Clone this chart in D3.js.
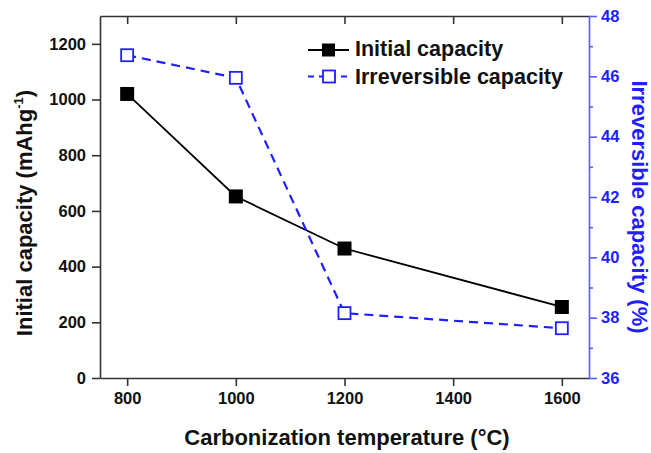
<!DOCTYPE html>
<html>
<head>
<meta charset="utf-8">
<script src="https://cdn.jsdelivr.net/npm/d3@7"></script>
<style>
  html, body { margin: 0; padding: 0; background: #fff; }
  svg { display: block; font-family: "Liberation Sans", Arial, sans-serif; }
</style>
</head>
<body>
<svg id="chart" width="651" height="453"></svg>
<script>
// Carbonization temperature (°C)
const temperatures = [800, 1000, 1200, 1600];
// Initial capacity (mAh g^-1)
const initialCapacity = [1020, 652, 465, 255];
// Irreversible capacity (%)
const irreversibleCapacity = [46.7, 45.95, 38.15, 37.65];

const xTicks = [800, 1000, 1200, 1400, 1600];
const yLeftTicks = [0, 200, 400, 600, 800, 1000, 1200];
const yRightTicks = [36, 38, 40, 42, 44, 46, 48];
const yRightMinor = [37, 39, 41, 43, 45, 47];

const svg = d3.select("#chart");
const plot = { left: 100, right: 589, top: 16, bottom: 378 };
const blue = "#1f1fff";
const fmt = d3.format("d");

const x = d3.scaleLinear().domain([750, 1650]).range([plot.left, plot.right]);
const yL = d3.scaleLinear().domain([0, 1300]).range([plot.bottom, plot.top]);
const yR = d3.scaleLinear().domain([36, 48]).range([plot.bottom, plot.top]);

// Bottom axis
const gx = svg.append("g").attr("transform", `translate(0,${plot.bottom})`)
  .call(d3.axisBottom(x).tickValues(xTicks).tickFormat(fmt).tickSize(8).tickSizeOuter(0).tickPadding(6));
// Top mirror axis, ticks pointing inward
const gxt = svg.append("g").attr("transform", `translate(0,${plot.top})`)
  .call(d3.axisBottom(x).tickValues(xTicks).tickSize(8).tickSizeOuter(0).tickFormat(""));
// Left axis
const gy = svg.append("g").attr("transform", `translate(${plot.left},0)`)
  .call(d3.axisLeft(yL).tickValues(yLeftTicks).tickFormat(fmt).tickSize(8).tickSizeOuter(0).tickPadding(6));
// Right axis (major + minor)
const gyr = svg.append("g").attr("transform", `translate(${plot.right},0)`)
  .call(d3.axisRight(yR).tickValues(yRightTicks).tickFormat(fmt).tickSize(8).tickSizeOuter(0).tickPadding(4));
const gyrm = svg.append("g").attr("transform", `translate(${plot.right},0)`)
  .call(d3.axisRight(yR).tickValues(yRightMinor).tickSize(4).tickSizeOuter(0).tickFormat(""));

[gx, gxt, gy].forEach(g => {
  g.selectAll("path").attr("stroke", "#333").attr("stroke-width", 1.6);
  g.selectAll("line").attr("stroke", "#333").attr("stroke-width", 1.6);
  g.selectAll("text").attr("fill", "#111").attr("font-size", 16.5).attr("font-weight", "bold")
    .attr("font-family", "Liberation Sans, Arial, sans-serif");
});
[gyr, gyrm].forEach(g => {
  g.selectAll("path").attr("stroke", "#5a5aff").attr("stroke-width", 1.6);
  g.selectAll("line").attr("stroke", "#5a5aff").attr("stroke-width", 1.6);
  g.selectAll("text").attr("fill", blue).attr("font-size", 16.5).attr("font-weight", "bold")
    .attr("font-family", "Liberation Sans, Arial, sans-serif");
});
gyrm.select("path").remove();

// Series: initial capacity (solid black)
const initPts = temperatures.map((t, i) => [x(t), yL(initialCapacity[i])]);
svg.append("path").attr("d", d3.line()(initPts))
  .attr("fill", "none").attr("stroke", "#000").attr("stroke-width", 1.8);
svg.selectAll(".init").data(initPts).enter().append("rect")
  .attr("x", d => d[0] - 7).attr("y", d => d[1] - 7)
  .attr("width", 14).attr("height", 14).attr("fill", "#000");

// Series: irreversible capacity (dashed blue)
const irrPts = temperatures.map((t, i) => [x(t), yR(irreversibleCapacity[i])]);
svg.append("path").attr("d", d3.line()(irrPts))
  .attr("fill", "none").attr("stroke", blue).attr("stroke-width", 2.2)
  .attr("stroke-dasharray", "9,6");
svg.selectAll(".irr").data(irrPts).enter().append("rect")
  .attr("x", d => d[0] - 6).attr("y", d => d[1] - 6)
  .attr("width", 12).attr("height", 12).attr("fill", "#fff")
  .attr("stroke", blue).attr("stroke-width", 1.8);

// Legend
const legend = svg.append("g");
legend.append("line").attr("x1", 308).attr("x2", 349).attr("y1", 50).attr("y2", 50)
  .attr("stroke", "#000").attr("stroke-width", 1.8);
legend.append("rect").attr("x", 322).attr("y", 43.5).attr("width", 13).attr("height", 13).attr("fill", "#000");
legend.append("text").attr("x", 355).attr("y", 56).text("Initial capacity")
  .attr("font-size", 21.5).attr("font-weight", "bold").attr("fill", "#111");
legend.append("line").attr("x1", 308).attr("x2", 349).attr("y1", 76.5).attr("y2", 76.5)
  .attr("stroke", blue).attr("stroke-width", 2.2).attr("stroke-dasharray", "6,5");
legend.append("rect").attr("x", 323).attr("y", 70.5).attr("width", 12).attr("height", 12)
  .attr("fill", "#fff").attr("stroke", blue).attr("stroke-width", 1.8);
legend.append("text").attr("x", 355).attr("y", 84).text("Irreversible capacity")
  .attr("font-size", 21.5).attr("font-weight", "bold").attr("fill", "#111");

// Axis titles
svg.append("text").attr("x", 347).attr("y", 445).attr("text-anchor", "middle")
  .attr("font-size", 22).attr("font-weight", "bold").attr("fill", "#111")
  .text("Carbonization temperature (°C)");

const lt = svg.append("text").attr("transform", "translate(32,213) rotate(-90)")
  .attr("text-anchor", "middle").attr("font-size", 22).attr("font-weight", "bold").attr("fill", "#111");
lt.append("tspan").text("Initial capacity (mAhg");
lt.append("tspan").attr("font-size", 13).attr("dy", -9).text("-1");
lt.append("tspan").attr("dy", 9).text(")");

svg.append("text").attr("transform", "translate(632,207) rotate(90)")
  .attr("text-anchor", "middle").attr("font-size", 22).attr("font-weight", "bold").attr("fill", blue)
  .text("Irreversible capacity (%)");
</script>
</body>
</html>
